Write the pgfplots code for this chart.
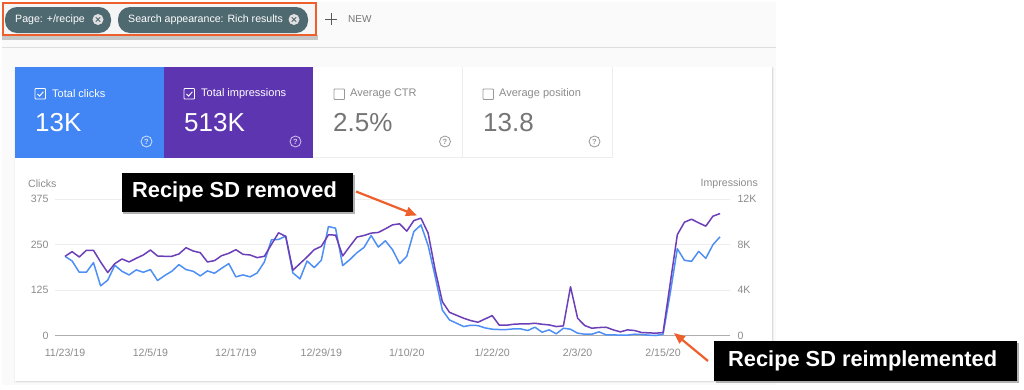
\documentclass[border=0pt]{standalone}
\usepackage{fontspec}
\setmainfont{Liberation Sans}
\usepackage{pgfplots}
\usepackage{pgfplotstable}
\pgfplotsset{compat=1.18}
\definecolor{gclick}{HTML}{4285F4}
\definecolor{gimpr}{HTML}{5E35B1}
\definecolor{gline}{HTML}{6B3FB8}
\definecolor{bline}{HTML}{4E8FF5}
\definecolor{chip}{HTML}{4F6971}
\definecolor{org}{HTML}{EE5F2B}
\definecolor{gtxt}{HTML}{8C8C8C}
\definecolor{gdark}{HTML}{757575}
\definecolor{pagebg}{HTML}{FAFAFA}
\pgfplotstableread{
d clicks
0 217.5
1 204.8
2 173.8
3 173.8
4 200.2
5 136.5
6 152
7 192.9
8 176.5
9 166.5
10 180.2
11 173.8
12 181.1
13 151.1
14 164.7
15 176.5
16 194.7
17 181.1
18 176.5
19 163.8
20 177.5
21 171.1
22 184.7
23 197.5
24 161.1
25 166.5
26 161.1
27 172
28 202
29 263
30 263.9
31 273
32 172
33 155.6
34 204.8
35 186.6
36 206.6
37 299.4
38 294.8
39 192
40 208.4
41 227.5
42 242
43 274.8
44 243
45 260.3
46 235.7
47 197.5
48 217.5
49 285.7
50 303.9
51 247.5
52 161.1
53 70
54 42.8
55 33.7
56 24.6
57 28.2
58 27.3
59 20.9
60 17.3
61 16.4
62 16.4
63 18.2
64 18.2
65 13.7
66 22.8
67 9.1
68 15.5
69 4.6
70 20
71 17.3
72 6.4
73 3.6
74 3.6
75 10
76 1.8
77 1.8
78 0.9
79 0.9
80 3.6
81 2.7
82 0.9
83 0
84 3.6
85 115.6
86 238.4
87 206.6
88 203.8
89 231.1
90 212
91 249.3
92 271.2
}\clickdata
\pgfplotstableread{
d impr
0 6962
1 7370
2 6904
3 7486
4 7486
5 6467
6 5535
7 6321
8 6729
9 6467
10 6787
11 7079
12 7516
13 6991
14 6962
15 6962
16 7166
17 7719
18 7428
19 7282
20 6467
21 6583
22 7020
23 7224
24 7545
25 7137
26 7079
27 6846
28 6962
29 8011
30 9030
31 8710
32 5739
33 6321
34 6904
35 7545
36 7836
37 8856
38 8826
39 6991
40 7836
41 8652
42 8797
43 9001
44 9059
45 9380
46 9729
47 9817
48 9176
49 10108
50 10312
51 9001
52 5739
53 2971
54 2039
55 1777
56 1515
57 1311
58 1165
59 1457
60 1748
61 903
62 903
63 990
64 1020
65 1020
66 1078
67 990
68 932
69 787
70 845
71 4282
72 1515
73 874
74 641
75 699
76 728
77 495
78 320
79 495
80 437
81 262
82 233
83 204
84 262
85 4573
86 8856
87 9962
88 10225
89 9904
90 9613
91 10487
92 10720
}\imprdata
\newcommand{\helpicon}[3]{% x y colour
  \draw[#3, line width=0.8pt] (#1,#2) circle (5.5);
  \node[#3, font=\fontsize{7.5}{8}\selectfont\bfseries, inner sep=0] at (#1,#2) {?};
}
\newcommand{\checkbox}[3]{% x y colour
  \draw[#3, line width=0.9pt, rounded corners=0.8pt] (#1,#2) rectangle ++(10.5,10.5);
  \draw[#3, line width=0.9pt] ($(#1,#2)+(2.4,5.4)$) -- ++(2.2,2.2) -- ++(3.8,-4.4);
}
\usetikzlibrary{calc,arrows.meta}
\pgfplotsset{every axis/.append style={
  scale only axis, width=675pt, height=136.5pt,
  at={(55pt,-335.5pt)}, anchor=south west,
  xmin=-1.404, xmax=93.4,
  major tick length=0pt,
  tick label style={font=\fontsize{10.6}{12}\selectfont, text=gtxt},
  clip=false,
}}
\begin{document}
\begin{tikzpicture}
\begin{scope}[x=1pt,y=-1pt]
\useasboundingbox (0,0) rectangle (1024,389);
\fill[white] (0,0) rectangle (1024,389);
\fill[pagebg] (2,2) rectangle (776,385);
\draw[black!13, line width=0.8pt] (2,47.5) -- (776,47.5);
% card
\fill[black!5] (14,68) rectangle (774,383);
\fill[black!12] (16,380) rectangle (773,382);
\fill[white] (15,67) rectangle (772,380.5);
\draw[black!14, line width=0.7pt] (772,67) -- (772,380.5);
\draw[black!7, line width=0.8pt] (15,157.8) -- (612,157.8);
\draw[black!7, line width=0.8pt] (612,67) -- (612,157.8);
\draw[black!7, line width=0.8pt] (462,67) -- (462,157.8);
\fill[gclick] (15,67) rectangle (164,157.5);
\fill[gimpr] (164,67) rectangle (313,157.5);
% filter chips
\fill[black!22] (2,35) rectangle (318,40);
\fill[black!4] (3,3) rectangle (316,35);
\fill[chip, rounded corners=12pt] (5,7) rectangle (111,33);
\fill[chip, rounded corners=12pt] (118,7) rectangle (308,33);
\draw[org, line width=2.6pt] (3,3) rectangle (316,35);
\node[white, anchor=west, inner sep=0, font=\fontsize{10.6}{12}\selectfont] at (15,19.5) {Page: +/recipe};
\node[white, anchor=west, inner sep=0, font=\fontsize{10.6}{12}\selectfont] at (128,19.5) {Search appearance: Rich results};
\foreach \cx in {98,294}{
  \fill[black!12] (\cx,19.5) circle (5.5);
  \draw[chip, line width=0.9pt] (\cx-2.2,17.3) -- (\cx+2.2,21.7) (\cx-2.2,21.7) -- (\cx+2.2,17.3);
}
\draw[black!65, line width=1pt] (331,13) -- (331,25) (325,19) -- (337,19);
\node[gdark, anchor=west, inner sep=0, font=\fontsize{10}{12}\selectfont] at (348,19) {NEW};
% tiles
\checkbox{35}{88.5}{white}
\checkbox{184}{88.5}{white}
\draw[black!40, line width=0.9pt, rounded corners=0.8pt] (334,89) rectangle ++(10.5,10.5);
\draw[black!40, line width=0.9pt, rounded corners=0.8pt] (483,89) rectangle ++(10.5,10.5);
\node[white, anchor=west, inner sep=0, font=\fontsize{11}{12}\selectfont] at (52,94) {Total clicks};
\node[white, anchor=west, inner sep=0, font=\fontsize{11}{12}\selectfont] at (201,94) {Total impressions};
\node[gtxt, anchor=west, inner sep=0, font=\fontsize{11}{12}\selectfont] at (350,94) {Average CTR};
\node[gtxt, anchor=west, inner sep=0, font=\fontsize{11}{12}\selectfont] at (499,94) {Average position};
\node[white, anchor=west, inner sep=0, font=\fontsize{26}{28}\selectfont] at (35,123) {13K};
\node[white, anchor=west, inner sep=0, font=\fontsize{26}{28}\selectfont] at (184,123) {513K};
\node[gdark, anchor=west, inner sep=0, font=\fontsize{26}{28}\selectfont] at (333,123) {2.5\%};
\node[gdark, anchor=west, inner sep=0, font=\fontsize{26}{28}\selectfont] at (483,123) {13.8};
\helpicon{146.5}{141.5}{white!75!gclick}
\helpicon{295.5}{141.5}{white!70!gimpr}
\helpicon{445}{141.5}{black!40}
\helpicon{594.5}{141.5}{black!40}
% axis titles
\node[gtxt, anchor=west, inner sep=0, font=\fontsize{10.6}{12}\selectfont] at (28,184) {Clicks};
\node[gtxt, anchor=east, inner sep=0, font=\fontsize{10.6}{12}\selectfont] at (758,184) {Impressions};
\end{scope}

\begin{axis}[
  ymin=0, ymax=375,
  axis y line*=left, axis x line*=bottom,
  y axis line style={draw=none},
  x axis line style={draw=black!32, line width=0.9pt, -},
  ytick={0,125,250,375}, yticklabels={0,125,250,375},
  xtick={0,12,...,84},
  xticklabels={11/23/19,12/5/19,12/17/19,12/29/19,1/10/20,1/22/20,2/3/20,2/15/20},
  ymajorgrids, grid style={draw=black!7, line width=0.7pt},
  yticklabel style={anchor=east, xshift=-3pt},
  xticklabel style={yshift=-10pt},
]
\addplot[bline, line width=1.5pt, line join=round] table[x=d,y=clicks] {\clickdata};
\end{axis}
\begin{axis}[
  ymin=0, ymax=12000,
  axis y line*=right, axis x line=none,
  y axis line style={draw=none},
  ytick={0,4000,8000,12000}, yticklabels={0,4K,8K,12K},
  yticklabel style={anchor=west, xshift=4pt},
  scaled y ticks=false,
]
\addplot[gline, line width=1.5pt, line join=round] table[x=d,y=impr] {\imprdata};
\end{axis}

\begin{scope}[x=1pt,y=-1pt]
\fill[black!30] (123,175) rectangle (355,214);
\fill[black] (121.5,173) rectangle (353,212);
\node[white, anchor=west, inner sep=0, font=\fontsize{21.8}{24}\selectfont\bfseries] at (132,192) {Recipe SD removed};
\draw[org, line width=2.2pt, -{Triangle[width=9pt,length=11pt]}] (356,191.5) -- (417,215.5);
\fill[black!30] (716,343) rectangle (1019,383);
\fill[black] (714,341) rectangle (1017,381);
\node[white, anchor=west, inner sep=0, font=\fontsize{21.8}{24}\selectfont\bfseries] at (728,360.5) {Recipe SD reimplemented};
\draw[org, line width=2.2pt, -{Triangle[width=9pt,length=11pt]}] (708,361) -- (674,333);
\end{scope}
\end{tikzpicture}
\end{document}
